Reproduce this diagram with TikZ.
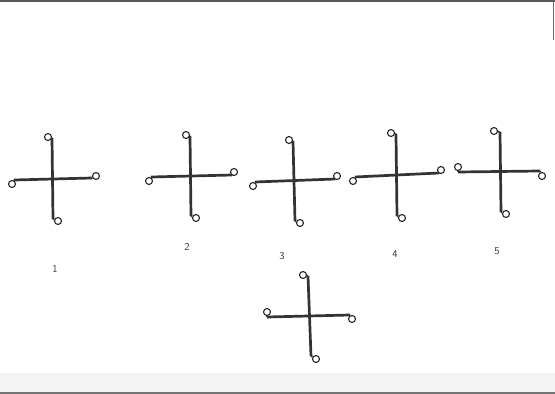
\documentclass[tikz,border=0pt]{standalone}
\begin{document}
\begin{tikzpicture}[x=1pt,y=-1pt,
  bar/.style={draw=black!80,line width=2.7pt},
  stub/.style={draw=black!80,line width=1.7pt},
  ring/.style={circle,draw=black!85,line width=1.1pt,minimum size=7pt,inner sep=0pt,fill=white},
  lbl/.style={font=\sffamily\fontsize{10.5}{12}\selectfont,text=black!80,inner sep=0pt}]
\useasboundingbox (0,0) rectangle (555,394);
% scan edges
\fill[black!65] (0,0) rectangle (555,1.6);
\fill[black!60] (552.6,0) rectangle (554.2,40);
\fill[green!4!black!5] (0,373) rectangle (555,392);
\fill[black!55] (0,392.3) rectangle (555,394);
% generic cross: #1 name; top end, bottom end, left end, right end; circle centers T,B,L,R
\newcommand\mycross[9]{%
  \coordinate (#1t) at (#2); \coordinate (#1b) at (#3);
  \coordinate (#1l) at (#4); \coordinate (#1r) at (#5);
  \node[ring] (#1T) at (#6) {}; \node[ring] (#1B) at (#7) {};
  \node[ring] (#1L) at (#8) {}; \node[ring] (#1R) at (#9) {};
  \draw[bar] (#1t) -- (#1b);
  \draw[bar] (#1l) -- (#1r);
  \draw[stub] (#1t) -- (#1T); \draw[stub] (#1b) -- (#1B);
  \draw[stub] (#1l) -- (#1L); \draw[stub] (#1r) -- (#1R);
}
\mycross{a}{52,138}{53,219}{14,180}{92,178}{48,137}{58,221}{12,184}{96,176}
\mycross{b}{190,136}{191,216}{151,177}{232,175}{186,135}{196,218}{149,181}{234,172}
\mycross{c}{293,141}{295,221}{255,182}{335,179}{289,140}{300,223}{253,186}{337,176}
\mycross{d}{396,134}{397,216}{355,177}{439,173}{391,133}{402,218}{353,181}{441,170}
\mycross{e}{500,132}{501,212}{458,172}{540,171}{494,131}{506,214}{458,167}{542,176}
\mycross{f}{308,276}{311,356}{267,317}{350,315}{303,275}{316,359}{267,312}{352,319}
% labels
\node[lbl] (n1) at (55,269) {1};
\node[lbl] (n2) at (187,247) {2};
\node[lbl] (n3) at (282,256) {3};
\node[lbl] (n4) at (395,254) {4};
\node[lbl] (n5) at (497,251) {5};
\end{tikzpicture}
\end{document}
